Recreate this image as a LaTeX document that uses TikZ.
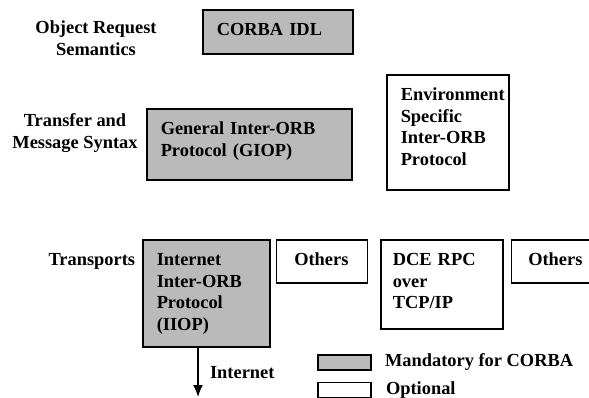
\documentclass[tikz,border=0pt]{standalone}
\usepackage{fontspec}
\setmainfont{Liberation Serif}
\usetikzlibrary{positioning,arrows.meta}
\tikzset{
  txt/.style={font=\fontsize{18.4}{21.5}\selectfont\bfseries},
  layer/.style={txt,draw,line width=1.5pt,anchor=north west,align=left,
    inner xsep=14pt,inner ysep=0pt,text height=26pt},
  mand/.style={layer,fill=black!27},
  opt/.style={layer,fill=white},
  keybox/.style={draw,line width=1.5pt,minimum width=53pt,minimum height=15pt,
    inner sep=0pt,anchor=north west},
  tag/.style={txt,align=center,anchor=base},
}
\begin{document}
\begin{tikzpicture}[x=1pt,y=-1pt]
  \path[use as bounding box,clip] (0,0) rectangle (589,397);

  % row labels
  \node[tag] (ors) at (96,55) {Object Request\\Semantics};
  \node[tag] (tms) at (75,148) {Transfer and\\Message Syntax};
  \node[tag,anchor=base west] (trn) at (45,265) {Transports};

  % layers
  \node[mand,text width=122pt,text depth=18pt] (idl) at (202,9) {CORBA IDL};
  \node[mand,text width=177pt,text depth=45pt] (giop) at (146,108) {General Inter-ORB\\Protocol (GIOP)};
  \node[opt,text width=94pt,text depth=89pt] (esiop) at (386,74) {Environment\\Specific\\Inter-ORB\\Protocol};

  \node[mand,text width=99pt,text depth=81pt] (iiop) at (142,239) {Internet\\Inter-ORB\\Protocol\\(IIOP)};
  \node[opt,inner xsep=18pt,text width=55pt,text depth=17pt] (oth1) [right=5pt of iiop.north east,anchor=north west] {Others};
  \node[opt,inner xsep=12pt,text width=98pt,text depth=63pt] (dce) at (380,239) {DCE RPC\\over\\TCP/IP};
  \node[opt,inner xsep=17pt,text width=66pt,text depth=17pt] (oth2) [right=7pt of dce.north east,anchor=north west] {Others};

  % legend
  \node[keybox,fill=black!27] (mkey) at (317,354) {};
  \node[keybox,fill=white] (okey) [below=11pt of mkey.south west,anchor=north west] {};
  \node[txt] (mtxt) [right=10pt of mkey] {Mandatory for CORBA};
  \node[txt] (otxt) [right=11pt of okey] {Optional};

  % transport
  \coordinate (net) at (198,397);
  \draw[line width=1.5pt,-{Latex[length=12pt,width=10pt]}] (iiop.south -| net) -- node[txt,right=8pt] (inet) {Internet} (net);
\end{tikzpicture}
\end{document}
